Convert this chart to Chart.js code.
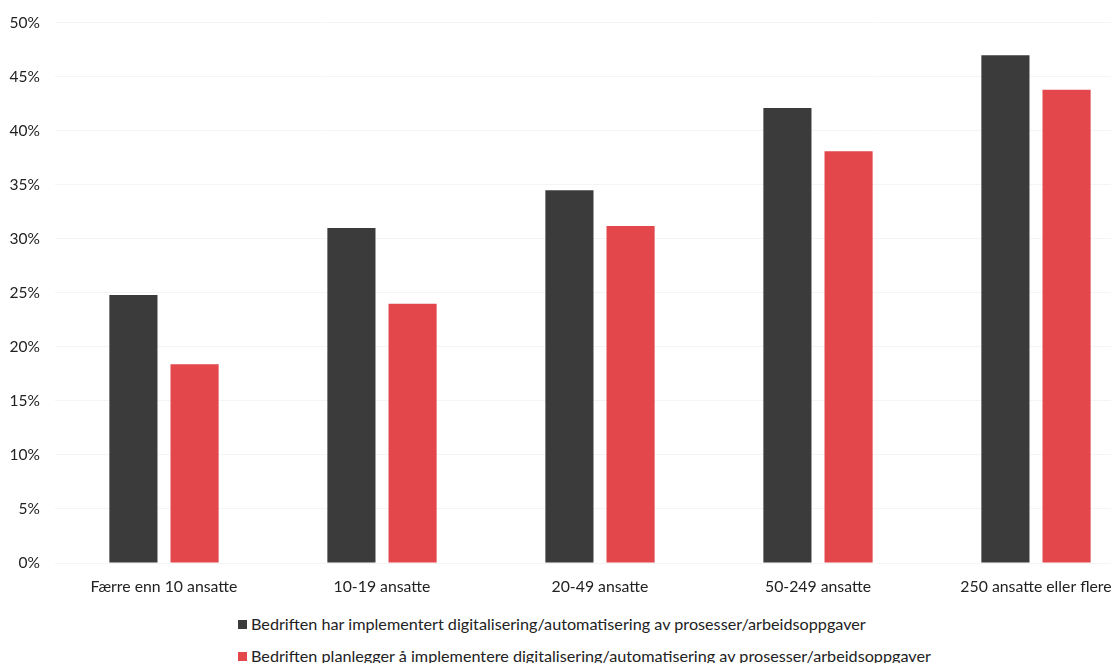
<!DOCTYPE html>
<html>
<head>
<meta charset="utf-8">
<script src="https://cdn.jsdelivr.net/npm/chart.js@4"></script>
<style>
  html, body { margin: 0; padding: 0; background: #fff; overflow: hidden; width: 1111px; height: 663px; }
  #wrap { position: absolute; left: 0; top: 0; width: 1145px; height: 600px; }
  #legend { position: absolute; left: 238px; top: 608px; font-family: Lato, "Open Sans", sans-serif; font-size: 16.2px; color: #222; line-height: 32px; white-space: nowrap; }
  .sw { display: inline-block; width: 9px; height: 9px; margin-right: 4px; vertical-align: 1px; }
</style>
</head>
<body>
<div id="wrap"><canvas id="c" width="1145" height="600"></canvas></div>
<div id="legend"></div>
<script>
const categories = ["Færre enn 10 ansatte", "10-19 ansatte", "20-49 ansatte", "50-249 ansatte", "250 ansatte eller flere"];
const seriesNames = [
  "Bedriften har implementert digitalisering/automatisering av prosesser/arbeidsoppgaver",
  "Bedriften planlegger å implementere digitalisering/automatisering av prosesser/arbeidsoppgaver"
];
const implemented = [24.8, 31.0, 34.5, 42.1, 47.0];
const planned = [18.4, 24.0, 31.2, 38.1, 43.8];
const yTicks = [0, 5, 10, 15, 20, 25, 30, 35, 40, 45, 50];
const colors = ["#3b3b3b", "#e3474c"];

const ctx = document.getElementById('c').getContext('2d');
new Chart(ctx, {
  type: 'bar',
  data: {
    labels: categories,
    datasets: [
      { label: seriesNames[0], data: implemented, backgroundColor: colors[0], categoryPercentage: 0.561, barPercentage: 0.787 },
      { label: seriesNames[1], data: planned, backgroundColor: colors[1], categoryPercentage: 0.561, barPercentage: 0.787 }
    ]
  },
  options: {
    responsive: false,
    animation: false,
    layout: { padding: { top: 22, right: 0, left: 0, bottom: 0 } },
    plugins: { legend: { display: false }, tooltip: { enabled: false } },
    scales: {
      x: {
        grid: { display: false },
        border: { display: false },
        ticks: { color: '#222', font: { family: 'Lato, "Open Sans", sans-serif', size: 15.8 }, padding: 6, maxRotation: 0, autoSkip: false },
        afterFit: (a) => { a.height = 37; }
      },
      y: {
        min: 0, max: 50,
        afterBuildTicks: (a) => { a.ticks = yTicks.map(v => ({ value: v })); },
        grid: { color: '#f4f4f4', drawTicks: false },
        border: { display: false },
        ticks: { color: '#222', font: { family: 'Lato, "Open Sans", sans-serif', size: 15.5, lineHeight: 1 }, padding: 15, callback: v => v + '%' },
        afterFit: (a) => { a.width = 55; }
      }
    }
  }
});

const lg = document.getElementById('legend');
seriesNames.forEach((n, i) => {
  const d = document.createElement('div');
  const s = document.createElement('span');
  s.className = 'sw'; s.style.background = colors[i];
  d.appendChild(s);
  d.appendChild(document.createTextNode(n));
  lg.appendChild(d);
});
</script>
</body>
</html>
